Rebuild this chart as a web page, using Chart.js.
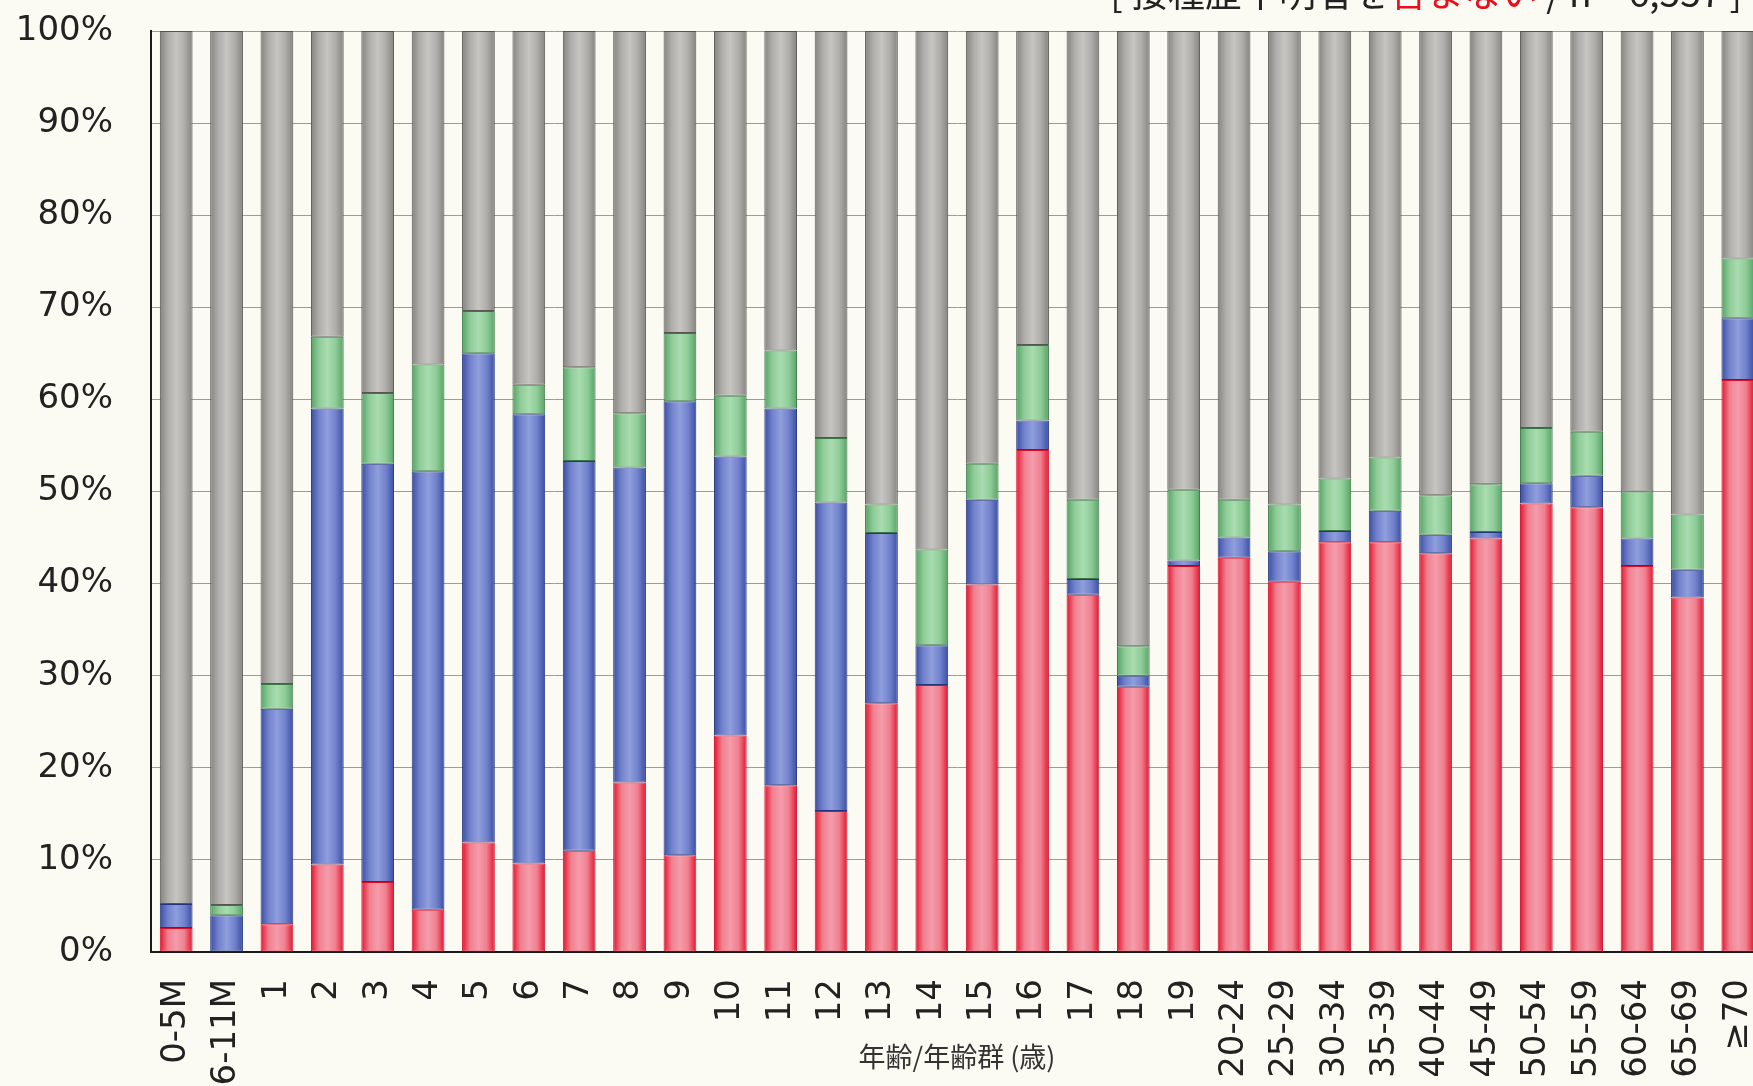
<!DOCTYPE html>
<html>
<head>
<meta charset="utf-8">
<script src="https://cdn.jsdelivr.net/npm/chart.js@4"></script>
<style>
  html, body { margin: 0; padding: 0; overflow: hidden; background: #fcfbf3; }
  #wrap { width: 1763px; height: 1086px; }
</style>
</head>
<body>
<div id="wrap"><canvas id="myChart" width="1763" height="1086"></canvas></div>
<script>
// age groups
const categories = ["0-5M","6-11M","1","2","3","4","5","6","7","8","9","10","11","12","13","14","15","16","17","18","19",
  "20-24","25-29","30-34","35-39","40-44","45-49","50-54","55-59","60-64","65-69","≥70"];

// segment shares in %, bottom to top
const redValues = [2.6,0,3.0,9.5,7.6,4.6,11.9,9.6,11.0,18.4,10.5,23.5,18.1,15.3,27.0,29.0,39.9,54.5,38.8,28.8,41.9,
  42.8,40.2,44.5,44.5,43.3,44.9,48.7,48.3,41.9,38.5,62.1];
const blueValues = [2.6,4.0,23.4,49.5,45.4,47.6,53.1,48.8,42.3,34.2,49.3,30.3,40.9,33.5,18.5,4.3,9.2,3.2,1.7,1.2,0.6,
  2.2,3.3,1.2,3.4,2.0,0.7,2.2,3.4,3.0,3.0,6.7];
const greenValues = [0,1.1,2.7,7.8,7.7,11.6,4.6,3.2,10.2,5.9,7.4,6.6,6.3,7.0,3.1,10.4,3.9,8.2,8.6,3.2,7.7,
  4.1,5.1,5.7,5.8,4.3,5.2,6.0,4.8,5.1,6.0,6.5];
const grayValues = [94.8,94.9,70.9,33.2,39.3,36.2,30.4,38.4,36.5,41.5,32.8,39.6,34.7,44.2,51.4,56.3,47.0,34.1,50.9,66.8,49.8,
  50.9,51.4,48.6,46.3,50.4,49.2,43.1,43.5,50.0,52.5,24.7];

const yTicks = [0,10,20,30,40,50,60,70,80,90,100];

const BAR_PCT = 0.65;

// cylinder-like shading across each bar
function shade(edge, mid, light){
  return function(ctx){
    const chart = ctx.chart;
    if(!chart.chartArea) return mid;
    const xs = chart.scales.x;
    const x = xs.getPixelForValue(ctx.dataIndex);
    const w = xs.width / categories.length * BAR_PCT;
    const g = chart.ctx.createLinearGradient(x - w/2, 0, x + w/2, 0);
    g.addColorStop(0, edge);
    g.addColorStop(0.25, mid);
    g.addColorStop(0.5, light);
    g.addColorStop(0.75, mid);
    g.addColorStop(1, edge);
    return g;
  };
}

function makeSet(label, data, edge, mid, light, border){
  return {
    label: label,
    data: data,
    backgroundColor: shade(edge, mid, light),
    borderColor: border,
    borderWidth: 1,
    borderSkipped: false,
    barPercentage: BAR_PCT,
    categoryPercentage: 1
  };
}

const extraText = {
  id: "extraText",
  afterDraw(chart){
    const c = chart.ctx;
    c.save();
    // header, mostly cut off at the top
    c.font = "37px 'Noto Sans CJK JP'";
    c.textBaseline = "alphabetic";
    c.textAlign = "left";
    const parts = [["[ 接種歴不明者を", "#222"], ["含まない", "#e8101c"], [" / n = 6,557 ]", "#222"]];
    let total = 0;
    parts.forEach(p => total += c.measureText(p[0]).width);
    let x = 1742 - total;
    parts.forEach(p => {
      c.fillStyle = p[1];
      c.fillText(p[0], x, 7);
      x += c.measureText(p[0]).width;
    });
    // x axis title
    const xs = chart.scales.x;
    c.font = "27px 'Noto Sans CJK JP'";
    c.fillStyle = "#333";
    c.textAlign = "center";
    c.textBaseline = "middle";
    c.fillText("年齢/年齢群 (歳)", (xs.left + xs.right) / 2, 1057);
    c.restore();
  }
};

new Chart("myChart", {
  type: "bar",
  data: {
    labels: categories,
    datasets: [
      makeSet("red", redValues, "#e2142e", "#f0808f", "#f49cab", "#d80f2a"),
      makeSet("blue", blueValues, "#3a4ea2", "#7282cc", "#8f9edc", "#24357f"),
      makeSet("green", greenValues, "#57a266", "#8fcc98", "#a9dcb0", "#3b7747"),
      makeSet("gray", grayValues, "#858481", "#afaeaa", "#c6c5c1", "#555553")
    ]
  },
  options: {
    responsive: false,
    animation: false,
    layout: { padding: { top: 31, left: 0, right: 0, bottom: 0 } },
    plugins: {
      legend: { display: false },
      tooltip: { enabled: false },
      title: { display: false }
    },
    scales: {
      x: {
        stacked: true,
        grid: { display: false, drawTicks: false },
        border: { color: "#1a1a1a", width: 2 },
        ticks: {
          minRotation: 90,
          maxRotation: 90,
          autoSkip: false,
          padding: 27,
          color: "#222",
          font: { family: "'DejaVu Sans'", size: 34 }
        },
        afterFit(scale){
          scale.height = 134;
          scale.paddingLeft = 0;
          scale.paddingRight = 0;
        }
      },
      y: {
        stacked: true,
        min: 0,
        max: 100,
        afterBuildTicks(scale){ scale.ticks = yTicks.map(v => ({ value: v })); },
        grid: { color: "#9c9c9c", lineWidth: 1, drawTicks: false },
        border: { color: "#1a1a1a", width: 2 },
        ticks: {
          padding: 38,
          color: "#222",
          font: { family: "'DejaVu Sans'", size: 34 },
          callback: v => v + "%"
        },
        afterFit(scale){
          scale.width = 151;
          scale.paddingTop = 0;
          scale.paddingBottom = 0;
        }
      }
    }
  },
  plugins: [extraText]
});
</script>
</body>
</html>
